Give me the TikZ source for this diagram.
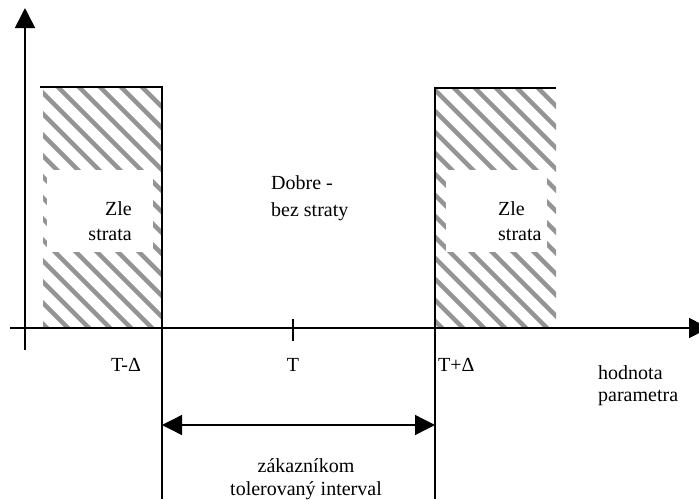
\documentclass[tikz,border=0pt]{standalone}
\usepackage{fontspec}
\setmainfont{Liberation Serif}
\usetikzlibrary{arrows.meta}
\tikzset{
  axis/.style={line width=1.6pt},
  edge/.style={line width=1.3pt},
  hatchline/.style={draw=black!42, line width=4.4pt},
  labelbox/.style={fill=white, draw=none},
  txt/.style={font=\fontsize{20}{24}\selectfont, inner sep=0pt},
  bigtip/.style={-{Triangle[length=20pt,width=20pt]}},
}
\begin{document}
\begin{tikzpicture}[x=1pt,y=-1pt]
\clip (0,0) rectangle (699,499);
\fill[white] (0,0) rectangle (699,499);
% coordinates
\coordinate (ytop) at (25,8);
\coordinate (ybot) at (25,350);
\coordinate (xleft) at (10,328);
\coordinate (xright) at (709,328);
\coordinate (lt) at (162,87);
\coordinate (lb) at (162,499);
\coordinate (rt) at (435,88);
\coordinate (rb) at (435,499);
% left hatched zone
\begin{scope}
  \clip (43,87) rectangle (162,328);
  \foreach \s in {-264,-243,...,180} \draw[hatchline] (\s,80) -- ++(260,260);
\end{scope}
% right hatched zone
\begin{scope}
  \clip (435,88) rectangle (556,328);
  \foreach \s in {194,215,...,580} \draw[hatchline] (\s,80) -- ++(260,260);
\end{scope}
% white label boxes
\fill[labelbox] (47,170) rectangle (153,252);
\fill[labelbox] (446,170) rectangle (547,252);
% rectangle edges
\draw[edge] (40,87) -- (lt) -- (lb);
\draw[edge] (556,88) -- (rt) -- (rb);
% axes
\draw[axis] (ybot) -- (25,28);
\draw[axis, bigtip] (25,40) -- (ytop);
\draw[axis, bigtip] (xleft) -- (xright);
% tick at T
\draw[axis] (293,319) -- (293,341);
% tolerance double arrow
\coordinate (al) at (162,425);
\coordinate (ar) at (435,425);
\draw[edge, {Triangle[length=20pt,width=20pt]}-{Triangle[length=20pt,width=20pt]}] (al) -- (ar);
% labels
\node[txt, align=right, anchor=east, font=\fontsize{20}{25}\selectfont] (zl1) at (132,221) {Zle\\strata};
\node[txt, align=left, anchor=west, font=\fontsize{20}{25}\selectfont] (zl2) at (498,221) {Zle\\strata};
\node[txt, align=left, anchor=west, font=\fontsize{20}{27}\selectfont] (dob) at (271,198) {Dobre -\\bez straty};
\node[txt] (tm) at (126,365) {T-Δ};
\node[txt] (t) at (293,365) {T};
\node[txt, anchor=west] (tp) at (438,365) {T+Δ};
\node[txt, align=left, anchor=west, font=\fontsize{20}{22}\selectfont] (hp) at (598,386) {hodnota\\parametra};
\node[txt, align=center, font=\fontsize{20}{23}\selectfont] (ti) at (306,479) {zákazníkom\\tolerovaný interval};
\end{tikzpicture}
\end{document}
